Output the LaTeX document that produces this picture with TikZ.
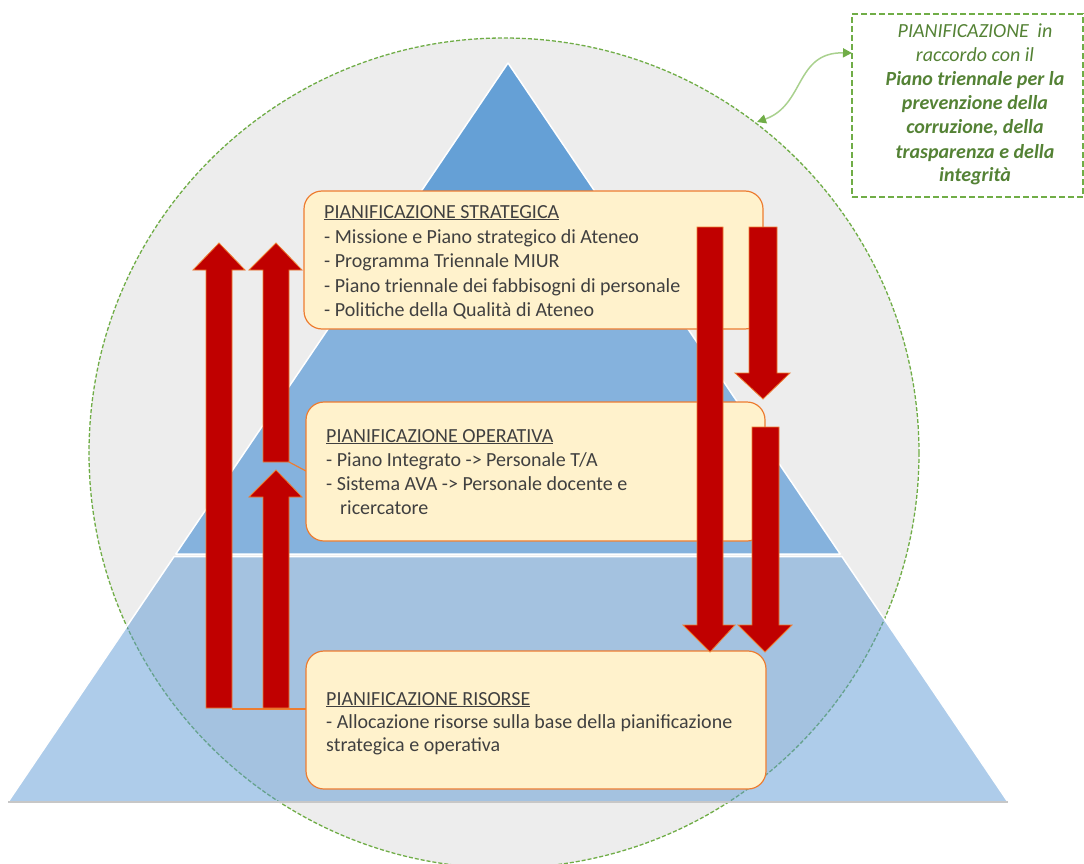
\documentclass[tikz,border=0pt]{standalone}
\usepackage{fontspec}
\setmainfont{Carlito}
\usetikzlibrary{arrows.meta}
\definecolor{circfill}{HTML}{EDEDED}
\definecolor{gline}{HTML}{70AD47}
\definecolor{gcurve}{HTML}{A9D18E}
\definecolor{gtext}{HTML}{548235}
\definecolor{triA}{HTML}{65A0D6}
\definecolor{triB}{HTML}{85B2DD}
\definecolor{triC}{HTML}{5D99D5}
\definecolor{boxfill}{HTML}{FFF2CC}
\definecolor{boxline}{HTML}{ED7D31}
\definecolor{arrred}{HTML}{C00000}
\definecolor{txtgrey}{HTML}{404040}
\begin{document}
\begin{tikzpicture}[x=1pt,y=-1pt,
 pbox/.style={draw=boxline, line width=1.2pt, fill=boxfill, rounded corners=18pt, inner sep=0pt},
 btxt/.style={anchor=base west, inner sep=0pt, text=txtgrey, font=\fontsize{20}{24.5}\selectfont},
 gtxt/.style={anchor=base, inner sep=0pt, text=gtext, font=\fontsize{20}{24}\selectfont\itshape},
 gbtxt/.style={gtxt, font=\fontsize{20}{24}\selectfont\bfseries\itshape},
 redarrow/.style={fill=arrred, draw=boxline, line width=0.8pt, line join=miter},
 oline/.style={draw=boxline, line width=1.2pt}]
\useasboundingbox (0,0) rectangle (1084,864);
% background circle
\fill[circfill] (504,453) circle (415pt);
% upper pyramid
\fill[triA] (508,63) -- (641.3,260) -- (374.7,260) -- cycle;
\fill[triB] (374.7,260) -- (641.3,260) -- (840.2,554) -- (175.8,554) -- cycle;
\draw[white, line width=1.5pt, line join=round] (508,63) -- (840.2,554) -- (175.8,554) -- cycle;
% dashed circle outline
\draw[gline, line width=1.3pt, dash pattern=on 4pt off 2pt] (504,453) circle (415pt);
% lower trapezoid
\fill[triC, fill opacity=0.5] (174.1,556.5) -- (841.9,556.5) -- (1008,802) -- (8,802) -- cycle;
\draw[white, line width=1.5pt] (8,802) -- (174.1,556.5) -- (841.9,556.5) -- (1008,802);
\draw[black!22, line width=1.5pt] (8,802) -- (1008,802);
% orange connector lines
\coordinate (la) at (232,709);
\coordinate (lb) at (306,709);
\coordinate (lc) at (289,462);
\coordinate (ld) at (306,471);
\draw[oline] (la) -- (lb);
\draw[oline] (lc) -- (ld);
% boxes
\node[pbox, minimum width=459pt, minimum height=138pt] (strat) at (533.5,260) {};
\node[pbox, minimum width=459pt, minimum height=139pt] (oper) at (535.5,471.5) {};
\node[pbox, minimum width=460pt, minimum height=138pt] (ris) at (536,720) {};
% red block arrows (up)
\draw[redarrow] (206,708) -- (206,270) -- (193,270) -- (219,243) -- (245,270) -- (232,270) -- (232,708) -- cycle;
\draw[redarrow] (263,462) -- (263,270) -- (249,270) -- (276,243) -- (302,270) -- (289,270) -- (289,462) -- cycle;
\draw[redarrow] (263,708) -- (263,497) -- (249,497) -- (276,470) -- (302,497) -- (289,497) -- (289,708) -- cycle;
% red block arrows (down)
\draw[redarrow] (697,227) -- (723,227) -- (723,625) -- (735,625) -- (710,652) -- (683,625) -- (697,625) -- cycle;
\draw[redarrow] (749,227) -- (777,227) -- (777,373) -- (790,373) -- (763,399) -- (735,373) -- (749,373) -- cycle;
\draw[redarrow] (752,427) -- (779,427) -- (779,625) -- (792,625) -- (765,652) -- (738,625) -- (752,625) -- cycle;
% texts box 1
\node[btxt] (s0) at (324,218) {\underline{PIANIFICAZIONE STRATEGICA}};
\node[btxt] (s1) at (324,243) {- Missione e Piano strategico di Ateneo};
\node[btxt] (s2) at (324,267.5) {- Programma Triennale MIUR};
\node[btxt] (s3) at (324,292) {- Piano triennale dei fabbisogni di personale};
\node[btxt] (s4) at (324,316.5) {- Politiche della Qualità di Ateneo};
% texts box 2
\node[btxt] (o0) at (326,442) {\underline{PIANIFICAZIONE OPERATIVA}};
\node[btxt] (o1) at (326,466.5) {- Piano Integrato -> Personale T/A};
\node[btxt] (o2) at (326,490.5) {- Sistema AVA -> Personale docente e};
\node[btxt] (o3) at (340,514) {ricercatore};
% texts box 3
\node[btxt] (r0) at (326,705) {\underline{PIANIFICAZIONE RISORSE}};
\node[btxt] (r1) at (326,728) {- Allocazione risorse sulla base della pianificazione};
\node[btxt] (r2) at (326,751) {strategica e operativa};
% green box
\node[draw=gline, dash pattern=on 6pt off 3pt, line width=1.3pt, minimum width=231pt, minimum height=183pt, inner sep=0pt] (gbox) at (967.5,105.5) {};
\node[gtxt] (g1) at (975,38) {PIANIFICAZIONE\hspace{4pt} in};
\node[gtxt] (g2) at (975,62) {raccordo con il};
\node[gbtxt] (g3) at (975,86) {Piano triennale per la};
\node[gbtxt] (g4) at (975,110) {prevenzione della};
\node[gbtxt] (g5) at (975,134) {corruzione, della};
\node[gbtxt] (g6) at (975,158) {trasparenza e della};
\node[gbtxt] (g7) at (975,182) {integrità};
% green curved double arrow
\coordinate (gc) at (757,122);
\coordinate (gb) at (852,53);
\draw[gcurve, line width=1.5pt, {Triangle[length=9pt,width=9pt,color=gline]}-{Triangle[length=9pt,width=9pt,color=gline]}] (gc) .. controls (805,105) and (795,52) .. (gb);
\end{tikzpicture}
\end{document}
